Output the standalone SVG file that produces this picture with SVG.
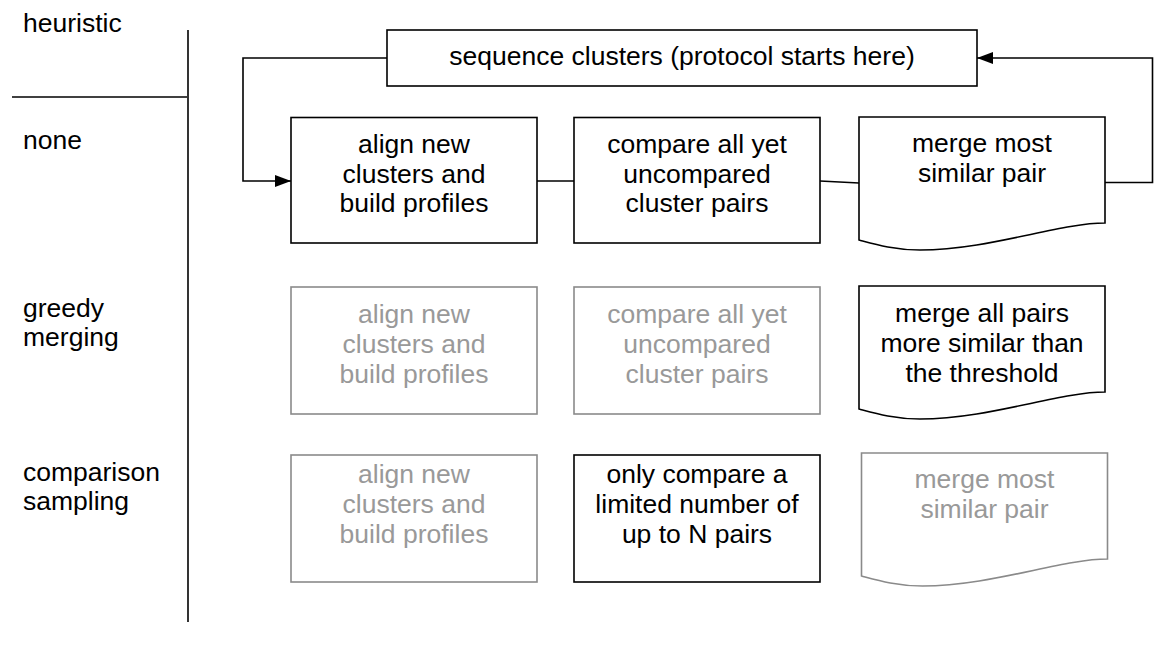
<svg xmlns="http://www.w3.org/2000/svg" width="1154" height="651" viewBox="0 0 1154 651">
  <style>
    text { font-family: "Liberation Sans", Arial, Helvetica, sans-serif; font-size: 26.5px; fill: #000; }
    .c { text-anchor: middle; }
    .box { fill: #fff; stroke: #000; stroke-width: 1.6; }
    .dim .box { stroke: #8a8a8a; }
    .dim text { fill: #999; }
    .line { fill: none; stroke: #000; stroke-width: 1.6; }
  </style>
  <defs>
    <marker id="arrow" viewBox="0 0 16 12" refX="16" refY="6" markerWidth="16" markerHeight="12" markerUnits="userSpaceOnUse" orient="auto">
      <path d="M0,0 L16,6 L0,12 Z" fill="#000"/>
    </marker>
    <!-- document shape with wavy bottom, 246 wide -->
    <path id="doc" d="M0,0 H246 V106 C200,106 130,133 61,133 C35,133 15,127 0,123 Z"/>
  </defs>

  <!-- row headings -->
  <g id="headings">
    <line class="line" x1="188" y1="30" x2="188" y2="622"/>
    <line class="line" x1="12" y1="97" x2="187" y2="97"/>
    <text x="23" y="32">heuristic</text>
    <text x="23" y="149">none</text>
    <text x="23" y="317">greedy</text>
    <text x="23" y="346">merging</text>
    <text x="23" y="481">comparison</text>
    <text x="23" y="510">sampling</text>
  </g>

  <!-- connectors -->
  <g id="connectors">
    <polyline class="line" points="387,58 243,58 243,181 291,181" marker-end="url(#arrow)"/>
    <line class="line" x1="537" y1="181" x2="574" y2="181"/>
    <line class="line" x1="820" y1="181" x2="859" y2="183"/>
    <polyline class="line" points="1105,182.5 1152.5,182.5 1152.5,58 977,58" marker-end="url(#arrow)"/>
  </g>

  <g id="start">
    <rect class="box" x="387" y="30" width="590" height="56"/>
    <text class="c" x="682" y="65">sequence clusters (protocol starts here)</text>
  </g>

  <!-- heuristic: none -->
  <g id="none-align">
    <rect class="box" x="291" y="117.5" width="246" height="125.5"/>
    <text class="c" x="414" y="153">align new</text>
    <text class="c" x="414" y="183">clusters and</text>
    <text class="c" x="414" y="212">build profiles</text>
  </g>
  <g id="none-compare">
    <rect class="box" x="574" y="117.5" width="246" height="125.5"/>
    <text class="c" x="697" y="153">compare all yet</text>
    <text class="c" x="697" y="183">uncompared</text>
    <text class="c" x="697" y="212">cluster pairs</text>
  </g>
  <g id="none-merge">
    <use href="#doc" class="box" x="859" y="117"/>
    <text class="c" x="982" y="152">merge most</text>
    <text class="c" x="982" y="182">similar pair</text>
  </g>

  <!-- heuristic: greedy merging -->
  <g id="greedy-align" class="dim">
    <rect class="box" x="291" y="287" width="246" height="127"/>
    <text class="c" x="414" y="323">align new</text>
    <text class="c" x="414" y="353">clusters and</text>
    <text class="c" x="414" y="383">build profiles</text>
  </g>
  <g id="greedy-compare" class="dim">
    <rect class="box" x="574" y="287" width="246" height="127"/>
    <text class="c" x="697" y="323">compare all yet</text>
    <text class="c" x="697" y="353">uncompared</text>
    <text class="c" x="697" y="383">cluster pairs</text>
  </g>
  <g id="greedy-merge">
    <use href="#doc" class="box" x="859" y="286"/>
    <text class="c" x="982" y="322">merge all pairs</text>
    <text class="c" x="982" y="352">more similar than</text>
    <text class="c" x="982" y="382">the threshold</text>
  </g>

  <!-- heuristic: comparison sampling -->
  <g id="sampling-align" class="dim">
    <rect class="box" x="291" y="455" width="246" height="127"/>
    <text class="c" x="414" y="483">align new</text>
    <text class="c" x="414" y="513">clusters and</text>
    <text class="c" x="414" y="543">build profiles</text>
  </g>
  <g id="sampling-compare">
    <rect class="box" x="574" y="455" width="246" height="127"/>
    <text class="c" x="697" y="483">only compare a</text>
    <text class="c" x="697" y="513">limited number of</text>
    <text class="c" x="697" y="543">up to N pairs</text>
  </g>
  <g id="sampling-merge" class="dim">
    <use href="#doc" class="box" x="861.5" y="453"/>
    <text class="c" x="984.5" y="488">merge most</text>
    <text class="c" x="984.5" y="518">similar pair</text>
  </g>
</svg>
